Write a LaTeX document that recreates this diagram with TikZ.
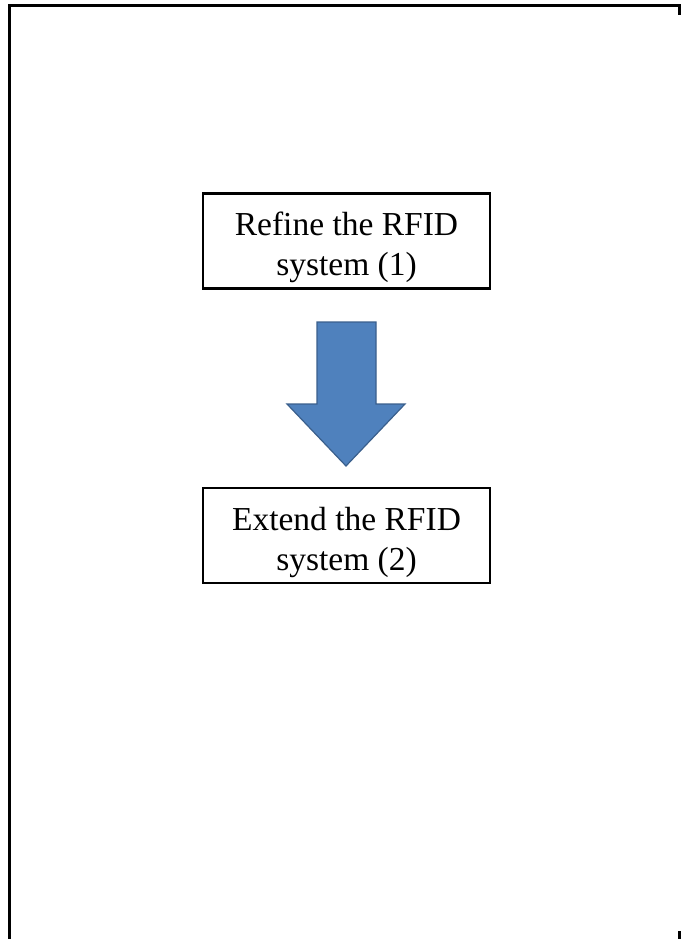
\documentclass[tikz,border=0pt]{standalone}
\usepackage{fontspec}
\setmainfont{Liberation Serif}
\definecolor{arrowfill}{HTML}{4F81BD}
\definecolor{arrowedge}{HTML}{3A5F8C}
\begin{document}
\begin{tikzpicture}[x=1pt,y=-1pt,
  stepbox/.style={draw=black,line width=2.2pt,minimum width=287pt,minimum height=95pt,
    inner sep=0pt},
  steptext/.style={align=center,inner sep=0pt,font=\fontsize{33.5}{40}\selectfont},
  frameline/.style={line width=3pt,line cap=butt}]
\useasboundingbox (0,0) rectangle (680,939);
% page frame
\draw[frameline] (9.5,939) -- (9.5,5.5) -- (679,5.5) -- (679,15);
\draw[frameline] (679,931) -- (679,939);
% boxes
\node[stepbox] (refine) at (346.5,241) {};
\node[steptext] (refinetext) at ([yshift=-6.5pt]refine.center) {Refine the RFID\\system (1)};
\node[stepbox] (extend) at (346.5,535.5) {};
\node[steptext] (extendtext) at ([yshift=-6.5pt]extend.center) {Extend the RFID\\system (2)};
% block arrow between the boxes
\draw[fill=arrowfill,draw=arrowedge,line width=1.2pt,line join=miter]
  (317,322) -- (376,322) -- (376,404) -- (405,404) -- (346,466) -- (287,404) -- (317,404) -- cycle;
\end{tikzpicture}
\end{document}
